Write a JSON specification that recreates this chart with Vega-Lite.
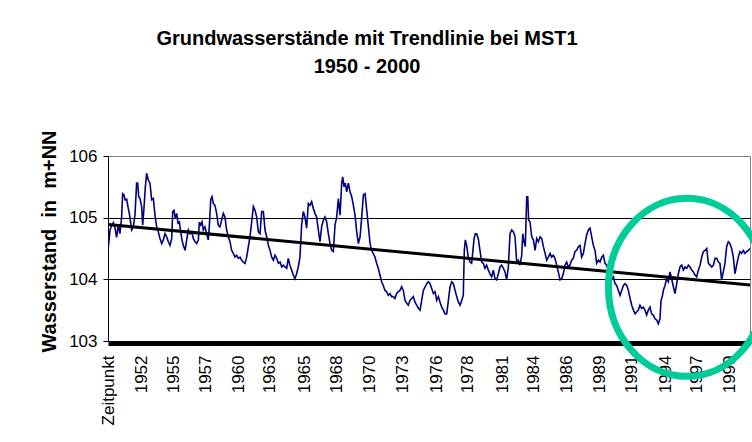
{
  "$schema": "https://vega.github.io/schema/vega-lite/v6.json",
  "autosize": "none",
  "width": 642,
  "height": 185,
  "padding": {"left": 108, "top": 156, "right": 2, "bottom": 101},
  "background": "white",
  "title": {
    "text": ["Grundwasserstände mit Trendlinie bei MST1", "1950 - 2000"],
    "font": "Liberation Sans",
    "fontSize": 20,
    "fontWeight": "bold",
    "color": "black",
    "anchor": "middle",
    "frame": "group",
    "dx": -62,
    "lineHeight": 28,
    "baseline": "bottom",
    "offset": 33
  },
  "config": {
    "font": "Liberation Sans",
    "view": {"stroke": "#808080", "strokeWidth": 1},
    "axis": {
      "labelFont": "Liberation Sans",
      "titleFont": "Liberation Sans",
      "labelColor": "black",
      "titleColor": "black",
      "tickColor": "black",
      "domainColor": "black",
      "domainWidth": 1
    }
  },
  "datasets": {
    "gw": [
      {"t":1950.03,"v":104.53},{"t":1950.16,"v":104.80},{"t":1950.29,"v":104.88},{"t":1950.42,"v":104.92},{"t":1950.55,"v":104.83},{"t":1950.67,"v":104.68},{"t":1950.80,"v":104.88},{"t":1950.93,"v":104.74},{"t":1951.06,"v":105.01},{"t":1951.14,"v":105.39},{"t":1951.25,"v":105.37},{"t":1951.32,"v":105.29},{"t":1951.45,"v":105.30},{"t":1951.58,"v":105.15},{"t":1951.71,"v":105.01},{"t":1951.84,"v":104.80},{"t":1951.97,"v":104.85},{"t":1952.10,"v":105.04},{"t":1952.23,"v":105.56},{"t":1952.31,"v":105.56},{"t":1952.39,"v":105.34},{"t":1952.49,"v":105.31},{"t":1952.62,"v":105.18},{"t":1952.70,"v":104.88},{"t":1952.80,"v":105.15},{"t":1952.91,"v":105.50},{"t":1953.01,"v":105.72},{"t":1953.14,"v":105.61},{"t":1953.27,"v":105.56},{"t":1953.40,"v":105.29},{"t":1953.53,"v":105.31},{"t":1953.66,"v":105.04},{"t":1953.79,"v":104.85},{"t":1953.92,"v":104.77},{"t":1954.05,"v":104.66},{"t":1954.18,"v":104.58},{"t":1954.31,"v":104.64},{"t":1954.44,"v":104.74},{"t":1954.57,"v":104.69},{"t":1954.70,"v":104.61},{"t":1954.83,"v":104.55},{"t":1954.96,"v":104.66},{"t":1955.04,"v":105.10},{"t":1955.14,"v":105.12},{"t":1955.24,"v":104.99},{"t":1955.35,"v":105.07},{"t":1955.45,"v":104.91},{"t":1955.56,"v":104.93},{"t":1955.66,"v":104.77},{"t":1955.76,"v":104.64},{"t":1955.87,"v":104.55},{"t":1956.00,"v":104.47},{"t":1956.13,"v":104.64},{"t":1956.26,"v":104.80},{"t":1956.39,"v":104.74},{"t":1956.52,"v":104.77},{"t":1956.65,"v":104.66},{"t":1956.78,"v":104.61},{"t":1956.91,"v":104.58},{"t":1957.04,"v":104.64},{"t":1957.11,"v":104.93},{"t":1957.22,"v":104.88},{"t":1957.32,"v":104.93},{"t":1957.42,"v":104.80},{"t":1957.55,"v":104.85},{"t":1957.68,"v":104.74},{"t":1957.81,"v":104.64},{"t":1957.89,"v":104.85},{"t":1958.00,"v":105.29},{"t":1958.10,"v":105.34},{"t":1958.20,"v":105.23},{"t":1958.33,"v":105.20},{"t":1958.46,"v":105.07},{"t":1958.59,"v":104.88},{"t":1958.72,"v":104.85},{"t":1958.85,"v":104.96},{"t":1958.98,"v":105.07},{"t":1959.11,"v":105.01},{"t":1959.24,"v":104.80},{"t":1959.37,"v":104.69},{"t":1959.50,"v":104.61},{"t":1959.63,"v":104.47},{"t":1959.76,"v":104.42},{"t":1959.89,"v":104.36},{"t":1960.02,"v":104.39},{"t":1960.15,"v":104.34},{"t":1960.28,"v":104.36},{"t":1960.41,"v":104.31},{"t":1960.54,"v":104.28},{"t":1960.67,"v":104.26},{"t":1960.80,"v":104.36},{"t":1960.93,"v":104.53},{"t":1961.06,"v":104.69},{"t":1961.19,"v":104.93},{"t":1961.32,"v":105.18},{"t":1961.45,"v":105.12},{"t":1961.58,"v":105.01},{"t":1961.71,"v":104.77},{"t":1961.84,"v":104.74},{"t":1961.97,"v":105.10},{"t":1962.10,"v":105.10},{"t":1962.23,"v":104.80},{"t":1962.36,"v":104.69},{"t":1962.49,"v":104.55},{"t":1962.62,"v":104.47},{"t":1962.75,"v":104.36},{"t":1962.88,"v":104.31},{"t":1963.01,"v":104.39},{"t":1963.14,"v":104.34},{"t":1963.27,"v":104.26},{"t":1963.40,"v":104.28},{"t":1963.53,"v":104.20},{"t":1963.66,"v":104.23},{"t":1963.79,"v":104.20},{"t":1963.92,"v":104.18},{"t":1964.04,"v":104.34},{"t":1964.17,"v":104.23},{"t":1964.30,"v":104.15},{"t":1964.43,"v":104.07},{"t":1964.56,"v":104.01},{"t":1964.69,"v":104.09},{"t":1964.82,"v":104.20},{"t":1964.95,"v":104.36},{"t":1965.08,"v":104.88},{"t":1965.21,"v":105.10},{"t":1965.34,"v":105.01},{"t":1965.47,"v":104.83},{"t":1965.60,"v":105.23},{"t":1965.73,"v":105.20},{"t":1965.86,"v":105.26},{"t":1965.99,"v":105.15},{"t":1966.12,"v":105.07},{"t":1966.25,"v":105.01},{"t":1966.38,"v":104.80},{"t":1966.51,"v":104.61},{"t":1966.64,"v":104.85},{"t":1966.77,"v":104.96},{"t":1966.90,"v":105.01},{"t":1967.03,"v":104.93},{"t":1967.16,"v":104.74},{"t":1967.29,"v":104.58},{"t":1967.42,"v":104.47},{"t":1967.55,"v":104.45},{"t":1967.68,"v":104.88},{"t":1967.81,"v":105.01},{"t":1967.94,"v":105.31},{"t":1968.07,"v":105.04},{"t":1968.20,"v":105.56},{"t":1968.28,"v":105.66},{"t":1968.38,"v":105.50},{"t":1968.48,"v":105.56},{"t":1968.59,"v":105.42},{"t":1968.72,"v":105.56},{"t":1968.85,"v":105.42},{"t":1968.98,"v":105.34},{"t":1969.11,"v":105.20},{"t":1969.24,"v":105.04},{"t":1969.37,"v":104.77},{"t":1969.50,"v":104.58},{"t":1969.63,"v":104.69},{"t":1969.76,"v":105.01},{"t":1969.89,"v":105.37},{"t":1970.02,"v":105.39},{"t":1970.15,"v":105.12},{"t":1970.28,"v":104.85},{"t":1970.41,"v":104.58},{"t":1970.53,"v":104.47},{"t":1970.66,"v":104.42},{"t":1970.79,"v":104.36},{"t":1970.92,"v":104.26},{"t":1971.05,"v":104.18},{"t":1971.18,"v":104.07},{"t":1971.31,"v":103.96},{"t":1971.44,"v":103.90},{"t":1971.57,"v":103.82},{"t":1971.70,"v":103.80},{"t":1971.83,"v":103.74},{"t":1971.96,"v":103.77},{"t":1972.09,"v":103.72},{"t":1972.22,"v":103.72},{"t":1972.35,"v":103.69},{"t":1972.48,"v":103.77},{"t":1972.61,"v":103.80},{"t":1972.74,"v":103.82},{"t":1972.87,"v":103.88},{"t":1973.00,"v":103.82},{"t":1973.13,"v":103.66},{"t":1973.26,"v":103.61},{"t":1973.39,"v":103.58},{"t":1973.52,"v":103.66},{"t":1973.65,"v":103.69},{"t":1973.78,"v":103.72},{"t":1973.91,"v":103.63},{"t":1974.04,"v":103.58},{"t":1974.17,"v":103.53},{"t":1974.30,"v":103.50},{"t":1974.56,"v":103.82},{"t":1974.82,"v":103.93},{"t":1974.95,"v":103.96},{"t":1975.08,"v":103.93},{"t":1975.21,"v":103.85},{"t":1975.34,"v":103.77},{"t":1975.47,"v":103.80},{"t":1975.60,"v":103.66},{"t":1975.73,"v":103.72},{"t":1975.86,"v":103.63},{"t":1975.99,"v":103.55},{"t":1976.12,"v":103.50},{"t":1976.25,"v":103.44},{"t":1976.38,"v":103.44},{"t":1976.51,"v":103.66},{"t":1976.64,"v":103.88},{"t":1976.77,"v":103.96},{"t":1976.90,"v":103.93},{"t":1977.03,"v":103.82},{"t":1977.16,"v":103.72},{"t":1977.29,"v":103.63},{"t":1977.42,"v":103.58},{"t":1977.55,"v":103.66},{"t":1977.67,"v":103.74},{"t":1977.75,"v":104.47},{"t":1977.83,"v":104.64},{"t":1977.93,"v":104.55},{"t":1978.06,"v":104.36},{"t":1978.19,"v":104.28},{"t":1978.32,"v":104.26},{"t":1978.40,"v":104.42},{"t":1978.51,"v":104.66},{"t":1978.61,"v":104.74},{"t":1978.71,"v":104.74},{"t":1978.84,"v":104.66},{"t":1978.97,"v":104.47},{"t":1979.10,"v":104.28},{"t":1979.23,"v":104.26},{"t":1979.36,"v":104.18},{"t":1979.49,"v":104.23},{"t":1979.62,"v":104.15},{"t":1979.75,"v":104.09},{"t":1979.88,"v":104.04},{"t":1980.01,"v":104.15},{"t":1980.14,"v":104.01},{"t":1980.27,"v":103.99},{"t":1980.40,"v":104.09},{"t":1980.53,"v":104.20},{"t":1980.66,"v":104.23},{"t":1980.79,"v":104.18},{"t":1980.92,"v":104.12},{"t":1981.05,"v":103.99},{"t":1981.18,"v":104.20},{"t":1981.31,"v":104.74},{"t":1981.44,"v":104.80},{"t":1981.57,"v":104.77},{"t":1981.70,"v":104.69},{"t":1981.83,"v":104.28},{"t":1981.96,"v":104.31},{"t":1982.09,"v":104.23},{"t":1982.22,"v":104.39},{"t":1982.30,"v":104.74},{"t":1982.40,"v":104.61},{"t":1982.50,"v":104.53},{"t":1982.61,"v":105.34},{"t":1982.69,"v":105.34},{"t":1982.76,"v":104.96},{"t":1982.87,"v":104.93},{"t":1983.00,"v":104.69},{"t":1983.13,"v":104.64},{"t":1983.26,"v":104.47},{"t":1983.39,"v":104.66},{"t":1983.52,"v":104.61},{"t":1983.65,"v":104.69},{"t":1983.78,"v":104.66},{"t":1983.91,"v":104.53},{"t":1984.04,"v":104.42},{"t":1984.17,"v":104.31},{"t":1984.30,"v":104.36},{"t":1984.43,"v":104.42},{"t":1984.55,"v":104.36},{"t":1984.68,"v":104.39},{"t":1984.81,"v":104.34},{"t":1984.94,"v":104.23},{"t":1985.07,"v":104.12},{"t":1985.20,"v":103.99},{"t":1985.33,"v":104.01},{"t":1985.46,"v":104.09},{"t":1985.59,"v":104.23},{"t":1985.72,"v":104.28},{"t":1985.85,"v":104.20},{"t":1985.98,"v":104.23},{"t":1986.11,"v":104.31},{"t":1986.24,"v":104.34},{"t":1986.37,"v":104.45},{"t":1986.50,"v":104.47},{"t":1986.63,"v":104.53},{"t":1986.76,"v":104.55},{"t":1986.89,"v":104.36},{"t":1987.02,"v":104.42},{"t":1987.15,"v":104.58},{"t":1987.28,"v":104.72},{"t":1987.41,"v":104.80},{"t":1987.54,"v":104.83},{"t":1987.67,"v":104.69},{"t":1987.80,"v":104.55},{"t":1987.93,"v":104.47},{"t":1988.06,"v":104.26},{"t":1988.19,"v":104.31},{"t":1988.32,"v":104.28},{"t":1988.45,"v":104.36},{"t":1988.58,"v":104.39},{"t":1988.71,"v":104.26},{"t":1988.84,"v":104.23},{"t":1988.97,"v":104.15},{"t":1989.10,"v":104.07},{"t":1989.23,"v":104.01},{"t":1989.36,"v":104.04},{"t":1989.49,"v":103.93},{"t":1989.62,"v":103.90},{"t":1989.75,"v":103.82},{"t":1989.88,"v":103.74},{"t":1990.01,"v":103.82},{"t":1990.14,"v":103.90},{"t":1990.27,"v":103.93},{"t":1990.40,"v":103.90},{"t":1990.53,"v":103.82},{"t":1990.66,"v":103.69},{"t":1990.79,"v":103.58},{"t":1990.92,"v":103.50},{"t":1991.05,"v":103.44},{"t":1991.17,"v":103.47},{"t":1991.30,"v":103.50},{"t":1991.43,"v":103.58},{"t":1991.56,"v":103.53},{"t":1991.69,"v":103.55},{"t":1991.82,"v":103.50},{"t":1991.95,"v":103.42},{"t":1992.08,"v":103.50},{"t":1992.21,"v":103.55},{"t":1992.34,"v":103.44},{"t":1992.47,"v":103.42},{"t":1992.60,"v":103.36},{"t":1992.73,"v":103.34},{"t":1992.86,"v":103.28},{"t":1992.99,"v":103.36},{"t":1993.07,"v":103.66},{"t":1993.17,"v":103.72},{"t":1993.25,"v":103.82},{"t":1993.38,"v":103.90},{"t":1993.51,"v":104.01},{"t":1993.64,"v":103.96},{"t":1993.77,"v":104.12},{"t":1993.90,"v":104.01},{"t":1994.03,"v":103.88},{"t":1994.16,"v":103.77},{"t":1994.29,"v":103.93},{"t":1994.42,"v":104.09},{"t":1994.55,"v":104.20},{"t":1994.68,"v":104.23},{"t":1994.81,"v":104.15},{"t":1994.94,"v":104.20},{"t":1995.07,"v":104.18},{"t":1995.20,"v":104.23},{"t":1995.33,"v":104.20},{"t":1995.46,"v":104.15},{"t":1995.59,"v":104.12},{"t":1995.72,"v":104.07},{"t":1995.85,"v":104.04},{"t":1995.98,"v":104.15},{"t":1996.11,"v":104.23},{"t":1996.24,"v":104.36},{"t":1996.37,"v":104.45},{"t":1996.50,"v":104.47},{"t":1996.63,"v":104.50},{"t":1996.76,"v":104.26},{"t":1996.89,"v":104.23},{"t":1997.02,"v":104.20},{"t":1997.15,"v":104.23},{"t":1997.28,"v":104.34},{"t":1997.41,"v":104.34},{"t":1997.54,"v":104.28},{"t":1997.66,"v":104.26},{"t":1997.79,"v":103.99},{"t":1997.92,"v":104.12},{"t":1998.05,"v":104.26},{"t":1998.18,"v":104.53},{"t":1998.31,"v":104.61},{"t":1998.44,"v":104.58},{"t":1998.57,"v":104.50},{"t":1998.70,"v":104.36},{"t":1998.83,"v":104.09},{"t":1998.96,"v":104.23},{"t":1999.09,"v":104.36},{"t":1999.22,"v":104.45},{"t":1999.35,"v":104.42},{"t":1999.48,"v":104.47},{"t":1999.61,"v":104.42},{"t":1999.74,"v":104.45},{"t":1999.87,"v":104.47},{"t":2000.00,"v":104.50}
    ],
    "trend": [{"t": 1950, "v": 104.89}, {"t": 2000, "v": 103.91}],
    "circle": [{"t": 1995.09, "v": 103.87}]
  },
  "layer": [
    {
      "data": {"name": "gw"},
      "mark": {"type": "line", "color": "#000080", "strokeWidth": 1.6, "clip": true},
      "encoding": {
        "x": {
          "field": "t", "type": "quantitative", "title": null,
          "scale": {"domain": [1950, 2000], "nice": false, "zero": false},
          "axis": {
            "tickCount": 500,
            "ticks": false,
            "offset": 2,
            "domainWidth": 5,
            "grid": false,
            "labelAngle": 270,
            "labelAlign": "right",
            "labelBaseline": "middle",
            "labelPadding": 12,
            "labelFontSize": 17,
            "labelOverlap": false,
            "labelFlush": false,
            "labelBound": false,
            "labelExpr": "indexof([1950,1952.6,1955.1,1957.6,1960.2,1962.6,1965.3,1967.8,1970.4,1972.9,1975.6,1978,1980.7,1983.1,1985.7,1988.3,1990.8,1993.4,1995.8,1998.4], round(datum.value*10)/10) < 0 ? '' : ['Zeitpunkt','1952','1955','1957','1960','1963','1965','1968','1970','1973','1976','1978','1981','1984','1986','1989','1991','1994','1997','1999'][indexof([1950,1952.6,1955.1,1957.6,1960.2,1962.6,1965.3,1967.8,1970.4,1972.9,1975.6,1978,1980.7,1983.1,1985.7,1988.3,1990.8,1993.4,1995.8,1998.4], round(datum.value*10)/10)]"
          }
        },
        "y": {
          "field": "v", "type": "quantitative", "title": "Wasserstand \u00a0in \u00a0m+NN",
          "scale": {"domain": [103, 106], "nice": false, "zero": false},
          "axis": {
            "values": [103, 104, 105, 106],
            "format": "d",
            "tickSize": 5,
            "labelPadding": 6,
            "labelFontSize": 17,
            "grid": true,
            "gridColor": {"condition": {"test": "datum.value >= 106", "value": "#808080"}, "value": "black"},
            "gridWidth": 1,
            "titleFontSize": 20,
            "titleFontWeight": "bold",
            "titlePadding": 9,
            "titleY": 85
          }
        }
      }
    },
    {
      "data": {"name": "trend"},
      "mark": {"type": "line", "color": "black", "strokeWidth": 3},
      "encoding": {
        "x": {"field": "t", "type": "quantitative", "title": null},
        "y": {"field": "v", "type": "quantitative", "title": "Wasserstand \u00a0in \u00a0m+NN"}
      }
    },
    {
      "data": {"name": "circle"},
      "mark": {
        "type": "point",
        "shape": "M -0.882 0 A 0.882 1 0 1 0 0.882 0 A 0.882 1 0 1 0 -0.882 0 Z",
        "size": 31684,
        "filled": false,
        "stroke": "#00cc99",
        "strokeWidth": 7,
        "opacity": 1
      },
      "encoding": {
        "x": {"field": "t", "type": "quantitative", "title": null},
        "y": {"field": "v", "type": "quantitative", "title": "Wasserstand \u00a0in \u00a0m+NN"}
      }
    }
  ]
}
